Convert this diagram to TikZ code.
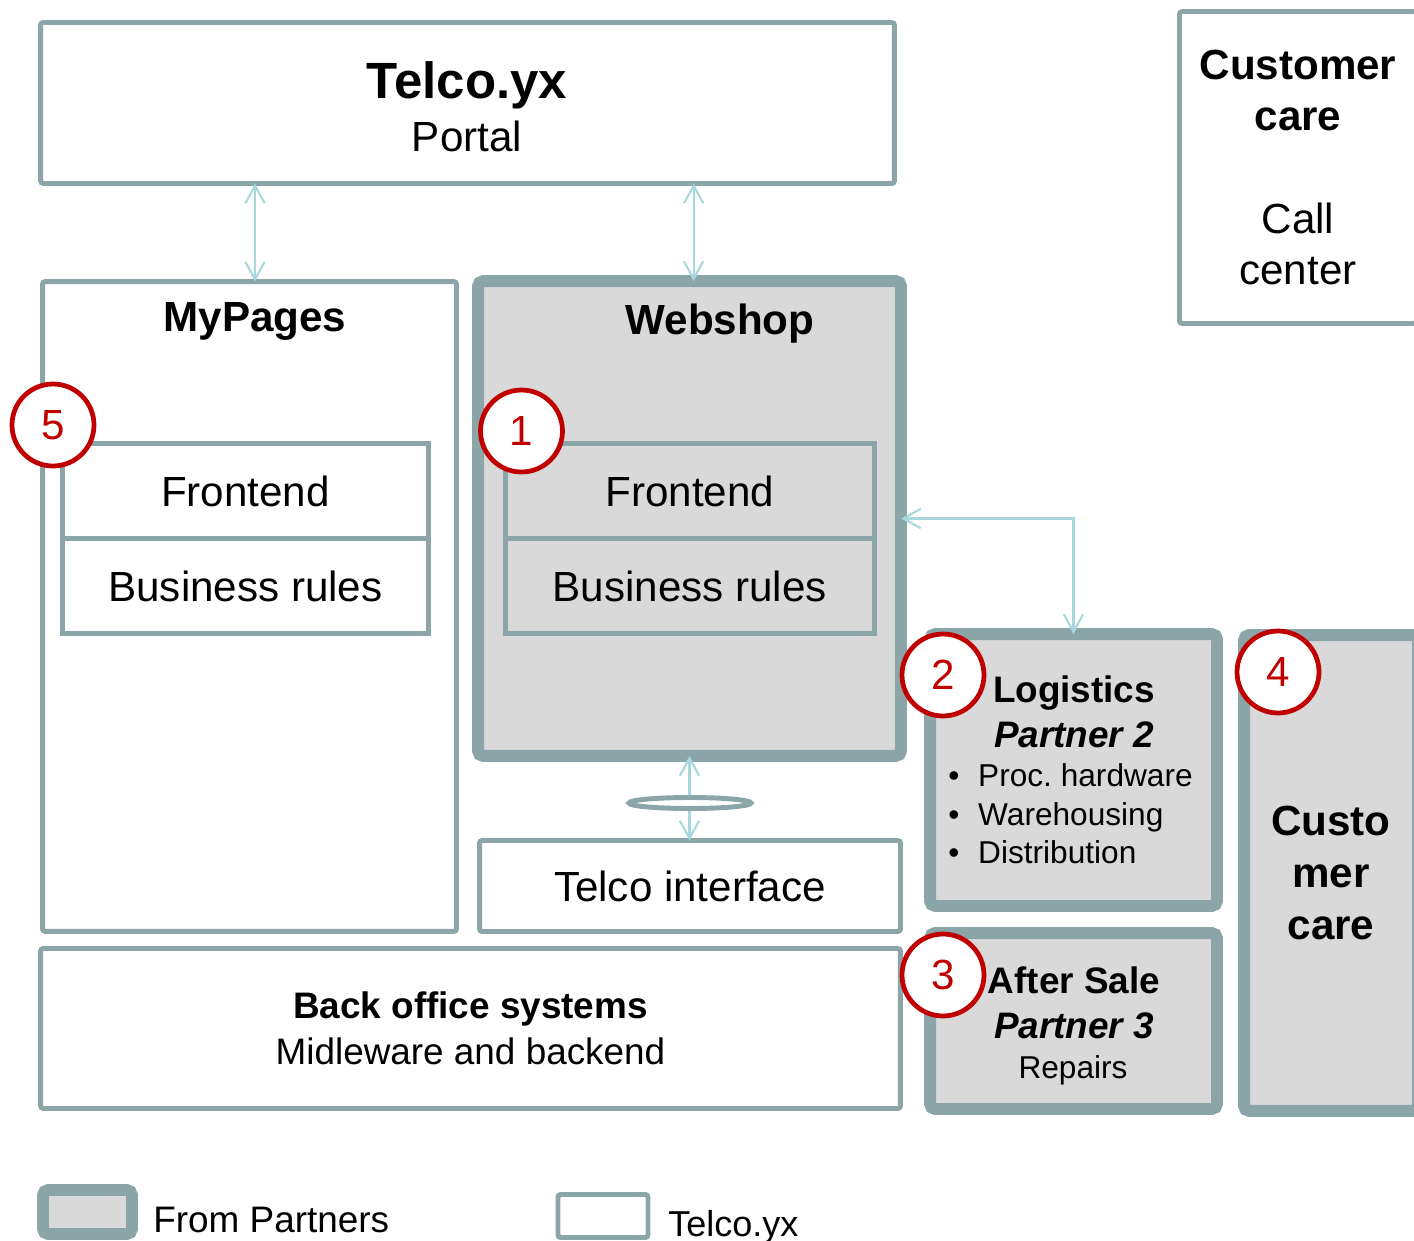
\documentclass[tikz,border=0pt]{standalone}
\usepackage{fontspec}
\setmainfont{Liberation Sans}
\usetikzlibrary{positioning,arrows.meta}
\definecolor{frame}{RGB}{139,165,168}
\definecolor{boxgray}{RGB}{217,217,217}
\definecolor{linkblue}{RGB}{168,216,222}
\definecolor{numred}{RGB}{192,0,0}
\newcommand{\itembul}{\makebox[17pt][l]{\textbullet}}
\begin{document}
\begin{tikzpicture}[x=0.02cm, y=-0.02cm,
  every node/.style={font=\fontsize{24}{28}\selectfont},
  telco/.style={draw=frame, line width=2.8pt, fill=white, rounded corners=1.5pt, inner sep=0pt, outer sep=0pt, align=center},
  partner/.style={draw=frame, line width=6.8pt, fill=boxgray, rounded corners=3pt, inner sep=0pt, outer sep=0pt, align=center},
  layer/.style={draw=frame, line width=2.7pt, inner sep=0pt, outer sep=0pt, minimum height=1.9cm},
  num/.style={circle, draw=numred, line width=2.7pt, fill=white, text=numred, minimum size=1.64cm, inner sep=0pt},
  link/.style={draw=linkblue, line width=1.2pt, <->, >={Straight Barb[length=10pt,width=11pt]}},
  boxtitle/.style={anchor=base, font=\fontsize{24}{28}\selectfont\bfseries},
  ptitle/.style={align=center, font=\fontsize{21}{25.6}\selectfont\bfseries},
]
\useasboundingbox (0,0) rectangle (1414,1241);

% Telco.yx portal
\node[telco, minimum width=17.08cm, minimum height=3.22cm] (portal) at (467.5,103) {};
\node[anchor=base, font=\fontsize{29}{34}\selectfont\bfseries] (portalname) at (467,98.5) {Telco.yx};
\node[anchor=base] (portalsub) at (467,151) {Portal};

% MyPages
\node[telco, minimum width=8.28cm, minimum height=13cm] (mypages) at (249.5,606.5) {};
\node[boxtitle] (mpname) at (255,331) {MyPages};
\node[layer, fill=white, minimum width=7.32cm] (mpfront) at (245.5,491) {Frontend};
\node[layer, fill=white, minimum width=7.32cm, below=0pt of mpfront] (mprules) {Business rules};

% Webshop
\node[partner, minimum width=8.46cm, minimum height=9.5cm] (webshop) at (689.5,518.5) {};
\node[boxtitle] (wsname) at (720,334) {Webshop};
\node[layer, minimum width=7.38cm] (wsfront) at (689.7,491) {Frontend};
\node[layer, minimum width=7.38cm, below=0pt of wsfront] (wsrules) {Business rules};

\node[telco, minimum width=8.42cm, minimum height=1.82cm] (iface) at (690,886) {Telco interface};
\node[telco, minimum width=17.2cm, minimum height=3.2cm, font=\fontsize{21}{26.2}\selectfont] (backoffice) at (470.5,1028.5) {\textbf{Back office systems}\\Midleware and backend};
\node[telco, minimum width=4.74cm, minimum height=6.24cm, font=\fontsize{24}{29}\selectfont] (callcenter) at (1298,167.5) {\textbf{Customer}\\\textbf{care}\\[30pt]Call\\center};

% partners
\node[partner, minimum width=5.74cm, minimum height=5.44cm] (logistics) at (1073.5,770) {};
\node[ptitle] (logname) at (1074,712) {Logistics\\\textit{Partner 2}};
\node[anchor=west, inner sep=0pt, align=left, font=\fontsize{18}{21.9}\selectfont] (logtasks) at (948,814) {\itembul Proc.\ hardware\\\itembul Warehousing\\\itembul Distribution};
\node[partner, minimum width=5.74cm, minimum height=3.52cm] (aftersale) at (1073.5,1021) {};
\node[ptitle] (asname) at (1074,1003) {After Sale\\\textit{Partner 3}};
\node[anchor=base, font=\fontsize{18}{22}\selectfont] (asrepairs) at (1073,1078) {Repairs};
\node[partner, minimum width=3.48cm, minimum height=9.52cm, font=\fontsize{24}{29.5}\selectfont\bfseries] (carepartner) at (1331,873) {Custo\\mer\\care};

% legend
\node[partner, minimum width=1.78cm, minimum height=0.88cm] (leggray) at (87.5,1212) {};
\node[anchor=base west, inner sep=0pt, font=\fontsize{21}{25}\selectfont] (leggraytext) at (153,1232) {From Partners};
\node[telco, minimum width=1.8cm, minimum height=0.86cm] (legwhite) at (603,1216) {};
\node[anchor=base west, inner sep=0pt, font=\fontsize{20.5}{25}\selectfont] (legwhitetext) at (668,1236) {Telco.yx};

% connectors
\draw[link] (portal.south -| mpname) -- (mypages.north -| mpname);
\draw[link] (portal.south -| webshop.89) -- (webshop.89);
\draw[link] (webshop.south) -- (webshop.south |- iface.north);
\draw[link] (webshop.east) -| (logistics.north);
\draw[draw=frame, line width=2.8pt, fill=white] (690,803) ellipse [x radius=1.22cm, y radius=0.11cm];

% numbers
\node[num] (n5) at (53,425) {5};
\node[num] (n1) at (521.5,431) {1};
\node[num] (n2) at (943,675) {2};
\node[num] (n3) at (943,975) {3};
\node[num] (n4) at (1278,672) {4};
\end{tikzpicture}
\end{document}
